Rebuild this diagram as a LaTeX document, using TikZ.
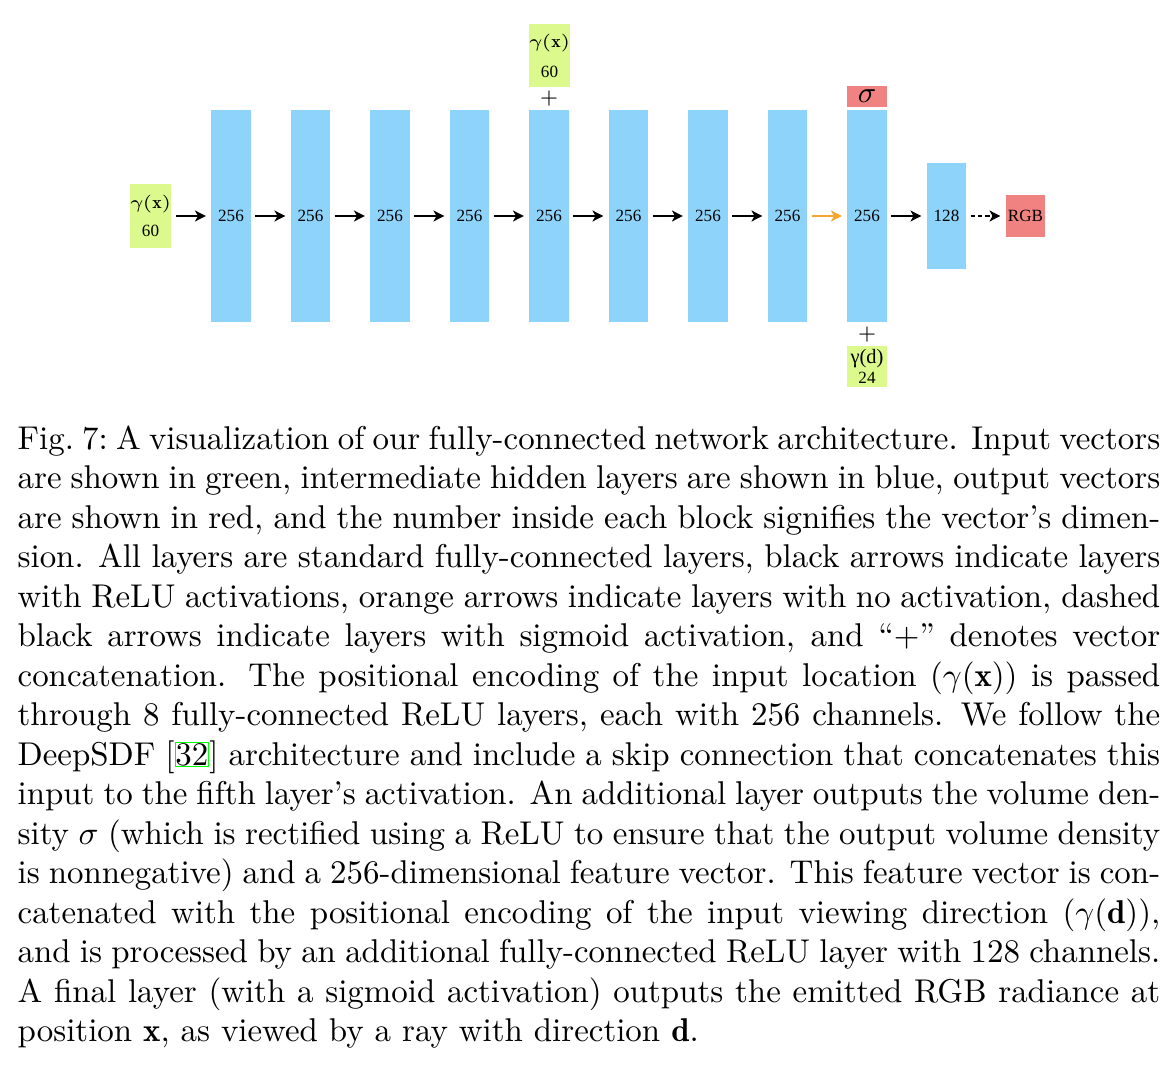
\documentclass[tikz,border=0pt]{standalone}
\usepackage{fix-cm}
\usepackage{fontspec}
\usepackage{tikz}
\usetikzlibrary{positioning,arrows.meta}
\newfontfamily\figfont{Liberation Serif}
\definecolor{cLayer}{HTML}{8ED3FA}
\definecolor{cIn}{HTML}{DBF98C}
\definecolor{cOut}{HTML}{F08282}
\definecolor{cNoAct}{HTML}{F5A530}

\begin{document}
\begin{tikzpicture}[x=0.3037pt,y=0.3037pt,
      layer/.style={fill=cLayer,inner sep=0pt,minimum width=11.85pt,minimum height=64.1pt,
                    font=\figfont\fontsize{5.2}{6}\selectfont},
      inbox/.style={fill=cIn,inner sep=0pt,minimum width=11.85pt,align=center,
                    font=\figfont\fontsize{5.2}{8.6}\selectfont},
      outbox/.style={fill=cOut,inner sep=0pt,minimum width=11.85pt,
                    font=\figfont\fontsize{5.2}{6}\selectfont},
      catsign/.style={inner sep=0pt,font=\fontsize{6}{6}\selectfont},
      arr/.style={-{Stealth[length=3.3pt,width=3.3pt,inset=0.9pt]},line width=0.6pt,
                  shorten <=1.2pt,shorten >=1.5pt}]
    \fill[white,use as bounding box] (0,0) rectangle (1174,-1070);
    % input
    \node[inbox,minimum height=19.4pt] (gx) at (150.5,-216)
      {\fontsize{5.4}{8.6}\selectfont$\gamma\mkern-1mu(\mathbf{x})$\\60};
    % hidden layers
    \node[layer] (l1) at (231,-216)   {256};
    \node[layer] (l2) at (310.5,-216) {256};
    \node[layer] (l3) at (390,-216)   {256};
    \node[layer] (l4) at (469.5,-216) {256};
    \node[layer] (l5) at (549,-216)   {256};
    \node[layer] (l6) at (628.5,-216) {256};
    \node[layer] (l7) at (708,-216)   {256};
    \node[layer] (l8) at (787.5,-216) {256};
    \node[layer] (l9) at (867,-216)   {256};
    \node[layer,minimum height=32.2pt] (l10) at (946.5,-216) {128};
    \node[outbox,minimum height=12.8pt] (rgb) at (1025.5,-216) {RGB};
    % skip input on layer 5
    \node[catsign] (p5) at (549,-99) {$+$};
    \node[inbox,minimum height=19.1pt,font=\figfont\fontsize{5.2}{9.1}\selectfont] (gx2) at (549.5,-55.5)
      {\fontsize{5.4}{9.1}\selectfont$\gamma\mkern-1mu(\mathbf{x})$\\60};
    % sigma and direction on layer 9
    \node[outbox,minimum height=6.4pt,font=\fontsize{9}{9}\selectfont] (sig) at (867,-96.5) {$\sigma$};
    \node[catsign] (p9) at (867,-335) {$+$};
    \node[inbox,minimum height=12.5pt,font=\figfont\fontsize{6.2}{6.1}\selectfont] (gd) at (867,-366.5)
      {γ(d)\\\fontsize{5.2}{6}\selectfont 24};
    % connectors
    \draw[arr] (gx) -- (l1); \draw[arr] (l1) -- (l2); \draw[arr] (l2) -- (l3);
    \draw[arr] (l3) -- (l4); \draw[arr] (l4) -- (l5); \draw[arr] (l5) -- (l6);
    \draw[arr] (l6) -- (l7); \draw[arr] (l7) -- (l8);
    \draw[arr,cNoAct] (l8) -- (l9);
    \draw[arr] (l9) -- (l10);
    \draw[arr,dash pattern=on 1.4pt off 0.8pt] (l10) -- (rgb);
    % caption
    \node[anchor=base west,inner sep=0pt,text width=347pt,align=justify,
          font=\fontsize{10}{12}\selectfont] (cap) at (17,-449)
      {Fig.~7:\ A visualization of our fully-connected network architecture. Input vectors\linebreak
       are shown in green, intermediate hidden layers are shown in blue, output vectors\linebreak
       are shown in red, and the number inside each block signifies the vector's dimen-\linebreak
       sion. All layers are standard fully-connected layers, black arrows indicate layers\linebreak
       with ReLU activations, orange arrows indicate layers with no activation, dashed\linebreak
       black arrows indicate layers with sigmoid activation, and ``$+$'' denotes vector\linebreak
       concatenation. The positional encoding of the input location $(\gamma(\mathbf{x}))$ is passed\linebreak
       through 8 fully-connected ReLU layers, each with 256 channels. We follow the\linebreak
       DeepSDF [{\setlength{\fboxsep}{0pt}\setlength{\fboxrule}{0.3pt}\fcolorbox{green}{white}{32}}]
       architecture and include a skip connection that concatenates this\linebreak
       input to the fifth layer's activation. An additional layer outputs the volume den-\linebreak
       sity $\sigma$ (which is rectified using a ReLU to ensure that the output volume density\linebreak
       is nonnegative) and a 256-dimensional feature vector. This feature vector is con-\linebreak
       catenated with the positional encoding of the input viewing direction $(\gamma(\mathbf{d}))$,\linebreak
       and is processed by an additional fully-connected ReLU layer with 128 channels.\linebreak
       A final layer (with a sigmoid activation) outputs the emitted RGB radiance at\linebreak
       position $\mathbf{x}$, as viewed by a ray with direction $\mathbf{d}$.};
  \end{tikzpicture}
\end{document}
